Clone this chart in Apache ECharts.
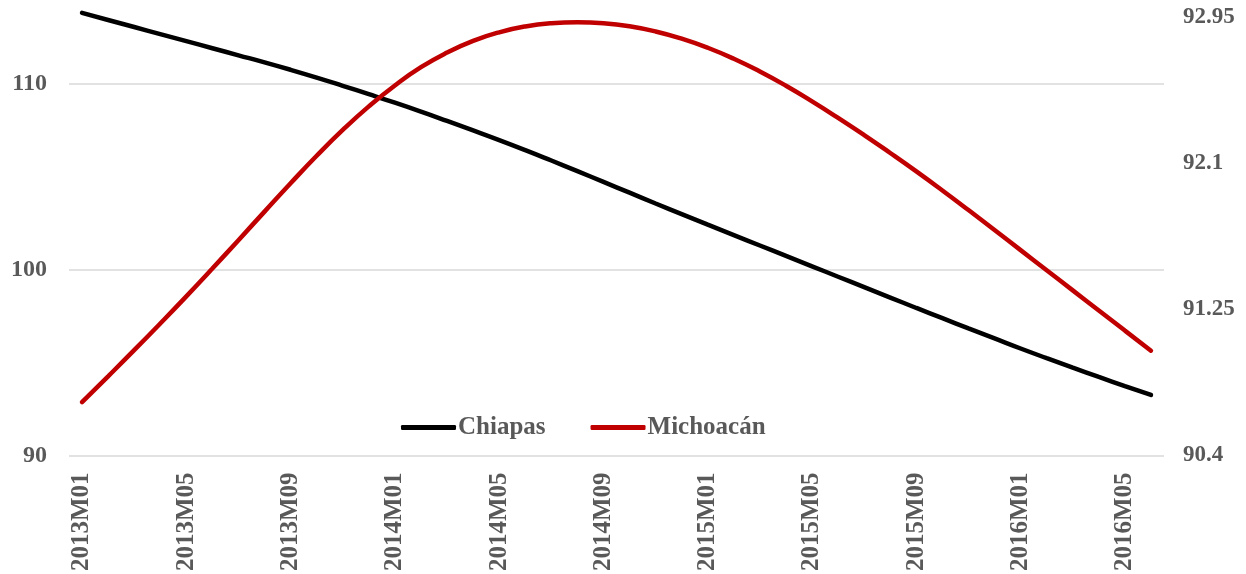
<!DOCTYPE html>
<html>
<head>
<meta charset="utf-8">
<script src="https://cdn.jsdelivr.net/npm/echarts@6/dist/echarts.min.js"></script>
<style>
  html, body { margin: 0; padding: 0; background: #fff; }
  #chart { width: 1246px; height: 574px; }
</style>
</head>
<body>
<div id="chart"></div>
<script>
// meses 2013M01 .. 2016M06
var months = [];
for (var y = 2013; y <= 2016; y++) {
  for (var m = 1; m <= 12; m++) {
    if (y === 2016 && m > 6) break;
    months.push(y + 'M' + (m < 10 ? '0' + m : m));
  }
}

// eje izquierdo
var chiapas = [
  113.80, 113.42, 113.04, 112.66, 112.28, 111.90, 111.52, 111.14, 110.74, 110.32,
  109.88, 109.43, 108.97, 108.49, 107.99, 107.48, 106.96, 106.42, 105.86, 105.29,
  104.71, 104.13, 103.55, 102.98, 102.41, 101.85, 101.29, 100.73, 100.17, 99.61,
  99.05, 98.49, 97.93, 97.38, 96.83, 96.29, 95.75, 95.23, 94.72, 94.22,
  93.73, 93.25
];

// eje derecho
var michoacan = [
  90.710, 90.860, 91.012, 91.167, 91.325, 91.487, 91.652, 91.818, 91.983, 92.143,
  92.293, 92.430, 92.552, 92.658, 92.743, 92.811, 92.861, 92.895, 92.914, 92.920,
  92.914, 92.896, 92.866, 92.824, 92.771, 92.707, 92.633, 92.550, 92.459, 92.363,
  92.263, 92.159, 92.052, 91.941, 91.827, 91.711, 91.594, 91.477, 91.360, 91.243,
  91.126, 91.009
];

var leftTicks = [90, 100, 110];
var rightTicks = [90.4, 91.25, 92.1, 92.95];

var font = 'Liberation Serif';
var grey = '#595959';

var myChart = echarts.init(document.getElementById('chart'));
var option = {
  animation: false,
  backgroundColor: '#fff',
  grid: { left: 69, right: 82, top: 17, bottom: 116 },
  legend: {
    left: 396,
    top: 410,
    itemWidth: 55,
    itemHeight: 5,
    itemGap: 45,
    icon: 'roundRect',
    textStyle: { fontFamily: font, fontWeight: 'bold', fontSize: 25, color: grey, padding: [0, 0, 0, -3] },
    data: ['Chiapas', 'Michoacán']
  },
  xAxis: {
    type: 'category',
    data: months,
    boundaryGap: true,
    axisLine: { show: false },
    axisTick: { show: false },
    axisLabel: {
      interval: 3,
      rotate: 90,
      margin: 17,
      fontFamily: font,
      fontWeight: 'bold',
      fontSize: 25,
      color: grey
    }
  },
  yAxis: [
    {
      type: 'value',
      min: leftTicks[0],
      max: 113.58,
      interval: 10,
      axisLine: { show: false },
      axisTick: { show: false },
      splitLine: { showMaxLine: false, lineStyle: { color: '#d9d9d9', width: 1.5 } },
      axisLabel: {
        showMaxLabel: false,
        margin: 22,
        fontFamily: font,
        fontWeight: 'bold',
        fontSize: 24,
        color: grey
      }
    },
    {
      type: 'value',
      min: rightTicks[0],
      max: rightTicks[rightTicks.length - 1],
      interval: 0.85,
      axisLine: { show: false },
      axisTick: { show: false },
      splitLine: { show: false },
      axisLabel: {
        margin: 19,
        fontFamily: font,
        fontWeight: 'bold',
        fontSize: 23,
        color: grey,
        formatter: function (v) { return String(Math.round(v * 100) / 100); }
      }
    }
  ],
  series: [
    {
      name: 'Chiapas',
      type: 'line',
      yAxisIndex: 0,
      data: chiapas,
      smooth: 0.5,
      clip: false,
      showSymbol: false,
      color: '#000000',
      lineStyle: { color: '#000000', width: 4.5, cap: 'round' }
    },
    {
      name: 'Michoacán',
      type: 'line',
      yAxisIndex: 1,
      data: michoacan,
      smooth: 0.5,
      clip: false,
      showSymbol: false,
      color: '#c00000',
      lineStyle: { color: '#c00000', width: 4.5, cap: 'round' }
    }
  ]
};
myChart.setOption(option);
</script>
</body>
</html>
